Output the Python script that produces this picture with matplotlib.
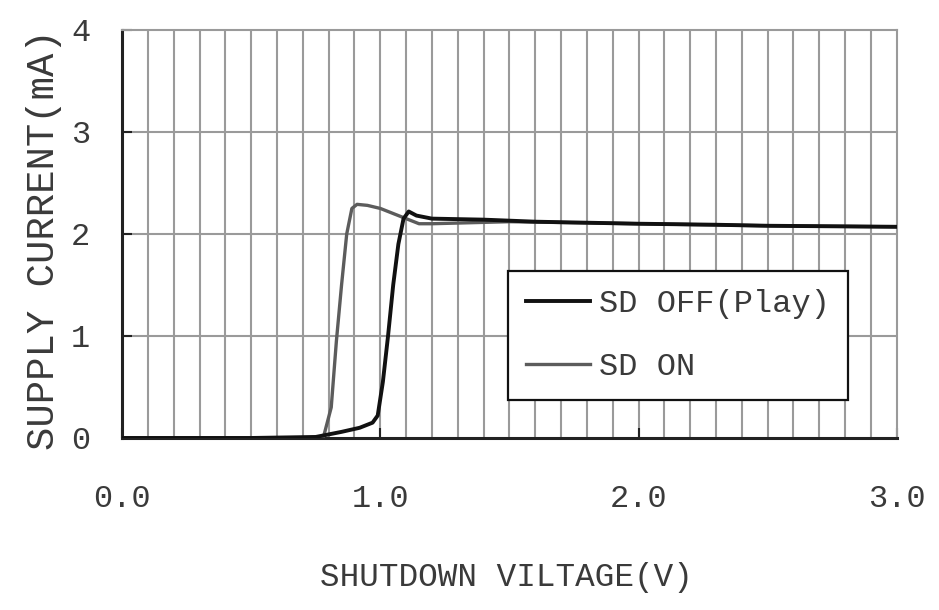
import matplotlib
matplotlib.use("Agg")
import matplotlib.pyplot as plt

# --- data ---
sd_off_v = [0.0, 0.5, 0.75, 0.85, 0.92, 0.97, 0.99, 1.01, 1.03, 1.05, 1.07, 1.09, 1.11, 1.14, 1.2, 1.4, 1.6, 1.8, 2.0, 2.3, 2.5, 3.0]
sd_off_i = [0.0, 0.0, 0.01, 0.06, 0.10, 0.15, 0.22, 0.55, 1.0, 1.5, 1.9, 2.15, 2.22, 2.18, 2.15, 2.14, 2.12, 2.11, 2.10, 2.09, 2.08, 2.07]
sd_on_v = [0.0, 0.7, 0.78, 0.81, 0.83, 0.85, 0.87, 0.89, 0.91, 0.95, 1.0, 1.05, 1.1, 1.15, 1.2, 1.5, 2.0, 2.5, 3.0]
sd_on_i = [0.0, 0.0, 0.01, 0.3, 0.95, 1.5, 2.0, 2.25, 2.29, 2.28, 2.25, 2.2, 2.15, 2.1, 2.1, 2.12, 2.1, 2.08, 2.07]
x_ticks = [0.0, 1.0, 2.0, 3.0]
x_labels = ["0.0", "1.0", "2.0", "3.0"]
y_ticks = [0, 1, 2, 3, 4]
y_labels = ["0", "1", "2", "3", "4"]
labels = ["SD OFF(Play)", "SD ON"]
x_title = "SHUTDOWN VILTAGE(V)"
y_title = "SUPPLY CURRENT(mA)"

plt.rcParams['font.family'] = ["Liberation Mono", "DejaVu Sans Mono", "DejaVu Sans"]

fig = plt.figure(figsize=(9.39, 6.10), dpi=100)
ax = fig.add_axes([0.130, 0.282, 0.825, 0.669])

grid_c = "#9a9a9a"
txt_c = "#3a3a3a"
for k in range(1, 30):
    ax.axvline(k / 10, color=grid_c, lw=1.5, zorder=1)
for v in [1, 2, 3]:
    ax.axhline(v, color=grid_c, lw=1.5, zorder=1)

ax.plot(sd_off_v, sd_off_i, color="#111111", lw=2.8, label=labels[0], zorder=4)
ax.plot(sd_on_v, sd_on_i, color="#5c5c5c", lw=2.4, label=labels[1], zorder=3)

ax.set_xlim(0, 3)
ax.set_ylim(0, 4)
ax.set_xticks(x_ticks)
ax.set_xticklabels(x_labels)
ax.set_yticks(y_ticks)
ax.set_yticklabels(y_labels)
ax.tick_params(direction="in", length=7, width=1.5, color="#222222", labelsize=23, labelcolor=txt_c)
ax.tick_params(axis="x", pad=33)
ax.tick_params(axis="y", pad=23)

for s in ["left", "bottom"]:
    ax.spines[s].set_color("#222222")
    ax.spines[s].set_linewidth(2.2)
for s in ["top", "right"]:
    ax.spines[s].set_color(grid_c)
    ax.spines[s].set_linewidth(1.5)

ax.set_xlabel(x_title, fontsize=23.5, color=txt_c)
ax.xaxis.set_label_coords(0.496, -0.305)
ax.set_ylabel(y_title, fontsize=28, color=txt_c)
ax.yaxis.set_label_coords(-0.078, 0.485)

leg = ax.legend(loc="lower right", bbox_to_anchor=(0.937, 0.093), fontsize=23, frameon=True,
                fancybox=False, edgecolor="#111111", framealpha=1, handlelength=2.0,
                handletextpad=0.3, borderpad=0.55, labelspacing=1.05, labelcolor=txt_c,
                borderaxespad=0)
leg.get_frame().set_linewidth(1.6)
leg.set_zorder(5)

fig.savefig("out.png", dpi=100)
